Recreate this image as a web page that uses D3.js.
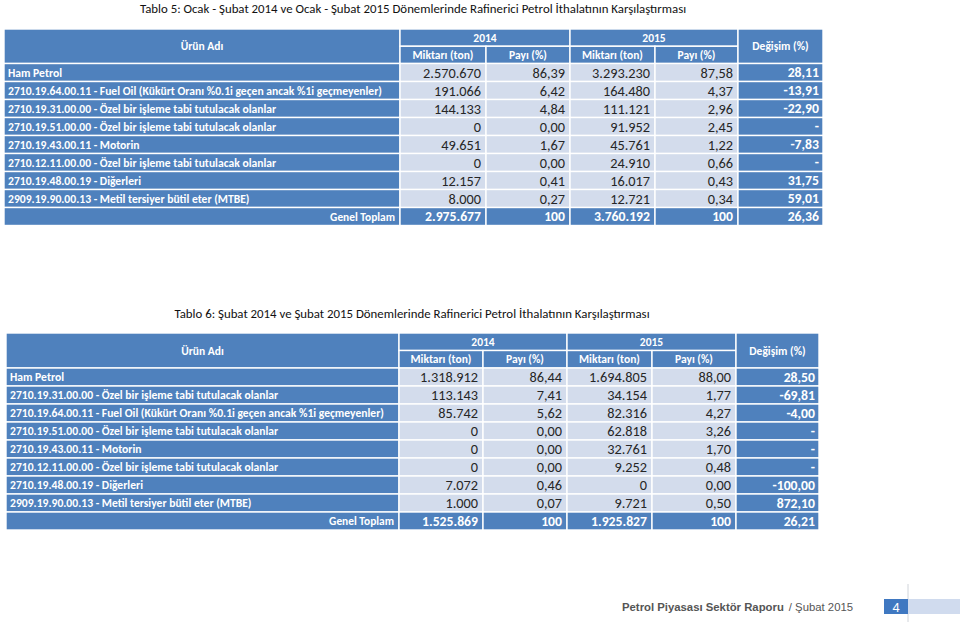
<!DOCTYPE html>
<html><head><meta charset="utf-8">
<script src="https://cdn.jsdelivr.net/npm/d3@7/dist/d3.min.js"></script>
<style>body{margin:0;background:#fff}svg{display:block}</style>
</head><body>
<svg id="c" width="960" height="622"></svg>
<script>
// ---- data ----
const title1 = "Tablo 5: Ocak - Şubat 2014 ve Ocak - Şubat 2015 Dönemlerinde Rafinerici Petrol İthalatının Karşılaştırması";
const products1 = ["Ham Petrol",
 "2710.19.64.00.11 - Fuel Oil (Kükürt Oranı %0.1i geçen ancak %1i geçmeyenler)",
 "2710.19.31.00.00 - Özel bir işleme tabi tutulacak olanlar",
 "2710.19.51.00.00 - Özel bir işleme tabi tutulacak olanlar",
 "2710.19.43.00.11 - Motorin",
 "2710.12.11.00.00 - Özel bir işleme tabi tutulacak olanlar",
 "2710.19.48.00.19 - Diğerleri",
 "2909.19.90.00.13 - Metil tersiyer bütil eter (MTBE)"];
const qty2014_1 = [2570670,191066,144133,0,49651,0,12157,8000];
const share2014_1 = [86.39,6.42,4.84,0.00,1.67,0.00,0.41,0.27];
const qty2015_1 = [3293230,164480,111121,91952,45761,24910,16017,12721];
const share2015_1 = [87.58,4.37,2.96,2.45,1.22,0.66,0.43,0.34];
const change1 = [28.11,-13.91,-22.90,null,-7.83,null,31.75,59.01];
const total1 = {q14:2975677, s14:100, q15:3760192, s15:100, ch:26.36};

const title2 = "Tablo 6: Şubat 2014 ve Şubat 2015 Dönemlerinde Rafinerici Petrol İthalatının Karşılaştırması";
const products2 = ["Ham Petrol",
 "2710.19.31.00.00 - Özel bir işleme tabi tutulacak olanlar",
 "2710.19.64.00.11 - Fuel Oil (Kükürt Oranı %0.1i geçen ancak %1i geçmeyenler)",
 "2710.19.51.00.00 - Özel bir işleme tabi tutulacak olanlar",
 "2710.19.43.00.11 - Motorin",
 "2710.12.11.00.00 - Özel bir işleme tabi tutulacak olanlar",
 "2710.19.48.00.19 - Diğerleri",
 "2909.19.90.00.13 - Metil tersiyer bütil eter (MTBE)"];
const qty2014_2 = [1318912,113143,85742,0,0,0,7072,1000];
const share2014_2 = [86.44,7.41,5.62,0.00,0.00,0.00,0.46,0.07];
const qty2015_2 = [1694805,34154,82316,62818,32761,9252,0,9721];
const share2015_2 = [88.00,1.77,4.27,3.26,1.70,0.48,0.00,0.50];
const change2 = [28.50,-69.81,-4.00,null,null,null,-100.00,872.10];
const total2 = {q14:1525869, s14:100, q15:1925827, s15:100, ch:26.21};

const headYears = ["2014","2015"];
const headSub = ["Miktarı (ton)","Payı (%)"];
const headName = "Ürün Adı", headChange = "Değişim (%)", totalLabel = "Genel Toplam";
const footerBold = "Petrol Piyasası Sektör Raporu", footerReg = "/ Şubat 2015", pageNo = "4";

// ---- style ----
const DARK = "#4f81bd", LIGHT = "#d3dcec", TXT = "#262626";
const FONT = "Carlito, Lato, 'Open Sans', sans-serif";
const loc = d3.formatLocale({decimal:",", thousands:".", grouping:[3], currency:["",""], minus:"-"});
const fQty = loc.format(",.0f"), fPct = loc.format(",.2f"), fInt = loc.format(",.0f");

const svg = d3.select("#c");

function fitSize(str, weight, family, targetW){
  const t = svg.append("text").attr("font-family",family).attr("font-weight",weight)
    .attr("font-size",100).text(str);
  const w = t.node().getComputedTextLength(); t.remove();
  return 100*targetW/w;
}
const labelSize = fitSize(products1[1], "bold", FONT, 374);
const numSize = fitSize("2.570.670", "normal", FONT, 58);
const boldNumSize = fitSize("2.570.670", "bold", FONT, 56);
const headSize = fitSize("Miktarı (ton)", "bold", FONT, 61);
const totSize = fitSize(totalLabel, "bold", FONT, 65);
const titleSize = fitSize(title1, "normal", FONT, 547);
const footSize = fitSize(footerBold, "bold", "'Liberation Sans', Arial, sans-serif", 162);

function drawTable(cfg){
  const g = svg.append("g");
  const weights = cfg.colW;
  const cum = [0]; weights.forEach(w=>cum.push(cum[cum.length-1]+w));
  const x = d3.scaleLinear().domain([0,cum[cum.length-1]]).range([cfg.x0,cfg.x1]);
  const colL = i => x(cum[i]), colR = i => x(cum[i+1]);
  const nRows = cfg.products.length + 1;
  const y = d3.scaleBand().domain(d3.range(nRows)).range([cfg.yData, cfg.yData + nRows*cfg.rowH]).paddingInner(0);
  const yh = d3.scaleBand().domain([0,1]).range([cfg.yHead, cfg.yData]);

  g.append("text").attr("x",cfg.titleX).attr("y",cfg.titleY).attr("text-anchor","middle")
   .attr("dominant-baseline","central")
   .attr("font-family",FONT).attr("font-size",titleSize).attr("fill","#111").text(cfg.title);

  const cell = (x0,x1,y0,y1,fill)=> g.append("rect").attr("x",x0).attr("y",y0)
     .attr("width",x1-x0).attr("height",y1-y0).attr("fill",fill)
     .attr("stroke","#fff").attr("stroke-width",1.4);
  const txt = (s,xx,yy,anchor,weight,fill,size)=> g.append("text").attr("x",xx).attr("y",yy)
     .attr("text-anchor",anchor).attr("dominant-baseline","central")
     .attr("font-family",FONT).attr("font-weight",weight).attr("font-size",size||labelSize)
     .attr("fill",fill).text(s);

  const hTop = yh(0), hMid = yh(1), hBot = cfg.yData;
  cell(colL(0),colR(0),hTop,hBot,DARK);
  txt(headName,(colL(0)+colR(0))/2,(hTop+hBot)/2,"middle","bold","#fff",headSize);
  headYears.forEach((yr,k)=>{
    const c0 = 1+2*k;
    cell(colL(c0),colR(c0+1),hTop,hMid,DARK);
    txt(yr,(colL(c0)+colR(c0+1))/2,(hTop+hMid)/2,"middle","bold","#fff",headSize);
    headSub.forEach((s,j)=>{
      cell(colL(c0+j),colR(c0+j),hMid,hBot,DARK);
      txt(s,(colL(c0+j)+colR(c0+j))/2,(hMid+hBot)/2,"middle","bold","#fff",headSize);
    });
  });
  cell(colL(5),colR(5),hTop,hBot,DARK);
  txt(headChange,(colL(5)+colR(5))/2,(hTop+hBot)/2,"middle","bold","#fff",headSize);

  cfg.products.forEach((p,i)=>{
    const y0 = y(i), y1 = y0 + y.bandwidth(), ym = (y0+y1)/2;
    cell(colL(0),colR(0),y0,y1,DARK);
    txt(p,colL(0)+4,ym,"start","bold","#fff");
    const vals = [fQty(cfg.q14[i]), fPct(cfg.s14[i]), fQty(cfg.q15[i]), fPct(cfg.s15[i])];
    vals.forEach((v,j)=>{
      cell(colL(1+j),colR(1+j),y0,y1,LIGHT);
      txt(v,colR(1+j)-5,ym,"end","normal",TXT,numSize);
    });
    cell(colL(5),colR(5),y0,y1,DARK);
    txt(cfg.ch[i]==null?"-":fPct(cfg.ch[i]),colR(5)-4,ym,"end","bold","#fff",boldNumSize);
  });
  const ti = cfg.products.length, ty0 = y(ti), ty1 = ty0+y.bandwidth(), tym=(ty0+ty1)/2;
  cell(colL(0),colR(0),ty0,ty1,DARK);
  txt(totalLabel,colR(0)-5,tym,"end","bold","#fff",totSize);
  const tv = [fQty(cfg.total.q14), fInt(cfg.total.s14), fQty(cfg.total.q15), fInt(cfg.total.s15), fPct(cfg.total.ch)];
  tv.forEach((v,j)=>{
    cell(colL(1+j),colR(1+j),ty0,ty1,DARK);
    txt(v,colR(1+j)-(j===4?4:5),tym,"end","bold","#fff",boldNumSize);
  });
}

drawTable({title:title1,titleX:413,titleY:8,x0:4,x1:823,colW:[396,86,84,85,83,85],
  yHead:29,yData:63.5,rowH:18,products:products1,q14:qty2014_1,s14:share2014_1,
  q15:qty2015_1,s15:share2015_1,ch:change1,total:total1});
drawTable({title:title2,titleX:412,titleY:313,x0:6,x1:819,colW:[393,84,84,85,84,83],
  yHead:333,yData:368,rowH:18,products:products2,q14:qty2014_2,s14:share2014_2,
  q15:qty2015_2,s15:share2015_2,ch:change2,total:total2});

const fg = svg.append("g");
fg.append("line").attr("x1",908).attr("x2",908).attr("y1",584).attr("y2",622)
  .attr("stroke","#d0d4da").attr("stroke-width",1);
fg.append("rect").attr("x",908).attr("y",599).attr("width",52).attr("height",15).attr("fill","#d0dbee");
fg.append("rect").attr("x",884).attr("y",599).attr("width",24).attr("height",15).attr("fill","#3f78c1");
fg.append("text").attr("x",896).attr("y",607).attr("text-anchor","middle").attr("dominant-baseline","central")
  .attr("font-family","'Liberation Sans', Arial, sans-serif").attr("font-size",13).attr("fill","#fff").text(pageNo);
const ft = fg.append("text").attr("x",622).attr("y",607).attr("dominant-baseline","central")
  .attr("font-family","'Liberation Sans', Arial, sans-serif").attr("font-size",footSize).attr("fill","#555");
ft.append("tspan").attr("font-weight","bold").text(footerBold);
ft.append("tspan").attr("dx",5).attr("font-weight","normal").text(footerReg);
</script>
</body></html>
